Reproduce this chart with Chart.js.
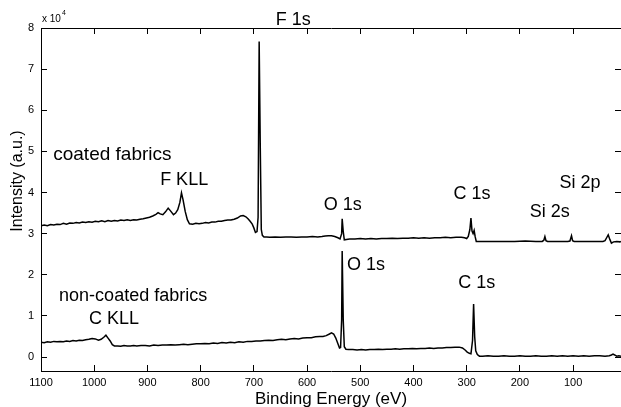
<!DOCTYPE html>
<html>
<head>
<meta charset="utf-8">
<title>XPS survey spectra</title>
<script src="https://cdn.jsdelivr.net/npm/chart.js@4.4.0/dist/chart.umd.min.js"></script>
<style>
  html, body { margin: 0; padding: 0; background: #fff; }
  #wrap { width: 621px; height: 407px; }
</style>
</head>
<body>
<div id="wrap"><canvas id="xpsChart" width="621" height="407"></canvas></div>
<script>
// Binding energy (eV) and intensity (counts)
const coatedEnergy = [
  1100, 1094, 1088, 1082, 1076, 1070, 1064, 1058, 1052, 1046, 1040, 1034, 1028, 1022, 1016, 1010,
  1004, 998, 992, 986, 980, 974, 968, 962, 956, 950, 944, 938, 932, 926, 920, 914, 908, 902, 896,
  890, 884, 880, 876, 871, 866, 861, 857, 851, 847, 843, 839, 836, 833, 829, 825, 821, 815, 809,
  803, 797, 791, 785, 779, 773, 767, 761, 755, 749, 743, 737, 731, 725, 720, 715, 711, 707, 703,
  700, 697, 694, 692, 690, 688, 686, 684, 681, 676, 670, 660, 650, 640, 630, 620, 610, 600, 590,
  580, 572, 566, 560, 554, 548, 542, 538, 535, 534, 532, 530, 526, 520, 510, 500, 490, 480, 470,
  460, 450, 440, 430, 420, 410, 400, 390, 380, 370, 360, 350, 340, 330, 320, 310, 304, 300, 297,
  294, 292, 290, 288, 286, 284, 282, 278, 270, 250, 230, 210, 190, 170, 158, 155, 153, 151, 148,
  130, 110, 106, 103, 101, 98, 80, 60, 44, 40, 37, 34, 31, 28, 24, 18, 12, 10
];
const coatedIntensity = [
  31900, 32100, 31900, 32200, 32100, 32300, 32200, 32500, 32300, 32600, 32500, 32700, 32600, 32800, 32700, 32900,
  32800, 33000, 32900, 33100, 32900, 33200, 33000, 33200, 33100, 33300, 33200, 33400, 33200, 33400, 33300, 33500, 33600, 33800, 34000,
  34300, 34700, 35100, 34800, 34600, 35300, 36200, 35600, 34600, 35000, 35800, 37600, 39900, 38200, 35400, 33400, 32400, 32300, 32500,
  32400, 32500, 32700, 32600, 32800, 32800, 33000, 33000, 33200, 33300, 33300, 33500, 33800, 34300, 34400, 34100, 33600, 33000, 32300,
  31400, 30300, 30500, 34000, 76700, 52000, 31000, 29600, 29200, 29200, 29100, 29200, 29100, 29200, 29200, 29100, 29200, 29200, 29300,
  29200, 29300, 29400, 29500, 29500, 29300, 29000, 28700, 30000, 33600, 30500, 28500, 28600, 28700, 28700, 28800, 28700, 28800, 28700,
  28800, 28800, 28900, 28800, 28900, 28900, 29000, 28900, 29000, 28900, 29000, 29000, 29100, 29000, 29100, 29100, 29000, 28800, 29300,
  31000, 33800, 30600, 30000, 30800, 29200, 28100, 28100, 28100, 28100, 28100, 28100, 28200, 28100, 28100, 28400, 29300, 28300, 28100,
  28100, 28100, 28200, 29500, 28300, 28100, 28100, 28100, 28100, 28300, 29000, 29700, 28600, 27700, 28000, 28100, 28000, 28100
];

const uncoatedEnergy = [
  1100, 1094, 1088, 1082, 1076, 1070, 1064, 1058, 1052, 1046, 1040, 1034, 1028, 1022, 1016, 1010,
  1004, 998, 992, 987, 982, 978, 974, 970, 966, 962, 956, 950, 944, 938, 932, 926, 920, 912, 904,
  896, 888, 880, 872, 864, 856, 848, 840, 832, 824, 816, 808, 800, 792, 784, 776, 768, 760, 752,
  744, 736, 728, 720, 712, 704, 696, 688, 680, 672, 664, 656, 648, 640, 632, 624, 616, 608, 600,
  592, 584, 576, 570, 564, 558, 554, 550, 546, 542, 539, 537, 535, 534, 532, 530, 527, 522, 514,
  506, 498, 490, 482, 474, 466, 458, 450, 442, 434, 426, 418, 410, 402, 394, 386, 378, 370, 362,
  354, 346, 338, 330, 322, 314, 308, 303, 299, 295, 292, 289, 287, 285, 283, 280, 276, 270, 260,
  250, 240, 230, 220, 210, 200, 190, 180, 170, 160, 150, 140, 130, 120, 110, 100, 90, 80, 70, 60,
  50, 40, 32, 28, 25, 22, 18, 14, 10
];
const uncoatedIntensity = [
  3600, 3500, 3700, 3600, 3800, 3700, 3800, 3700, 3900, 3800, 4000, 3900, 4100, 4000, 4200, 4300,
  4500, 4400, 4100, 4300, 4800, 5300, 4600, 3900, 3000, 2700, 2700, 2600, 2800, 2700, 2700, 2800, 2700, 2800, 2800,
  2700, 2900, 2800, 2900, 2900, 3000, 2900, 3000, 3100, 3000, 3100, 3200, 3200, 3300, 3200, 3400, 3300, 3500, 3400,
  3600, 3500, 3700, 3600, 3800, 3800, 3900, 3900, 4000, 4100, 4000, 4200, 4300, 4200, 4400, 4500, 4400, 4600, 4700,
  4700, 4900, 5000, 5000, 5200, 5600, 5900, 5600, 4600, 3200, 2200, 2300, 9000, 25800, 9000, 2500, 1900, 1800, 1800,
  1700, 1800, 1700, 1800, 1800, 1900, 1800, 1900, 1900, 2000, 1900, 2000, 2000, 2100, 2000, 2100, 2100, 2200, 2100,
  2200, 2200, 2300, 2300, 2400, 2400, 2200, 1700, 1200, 900, 800, 4000, 12900, 5000, 1500, 600, 200, 200, 300,
  200, 200, 300, 200, 200, 300, 200, 200, 300, 200, 200, 300, 200, 300, 200, 300, 200, 300, 200, 300,
  300, 200, 300, 500, 700, 500, 200, 300, 200
];

const xTickValues = [1100, 1000, 900, 800, 700, 600, 500, 400, 300, 200, 100];
const yTickValues = [0, 10000, 20000, 30000, 40000, 50000, 60000, 70000, 80000];

// peak labels: text, binding energy, intensity, alignment, font size
const peakLabels = [
  { text: 'F 1s', x: 626, y: 82000, align: 'center', size: 18 },
  { text: 'coated fabrics', x: 1077, y: 49100, align: 'left', size: 19 },
  { text: 'F KLL', x: 831, y: 43100, align: 'center', size: 18 },
  { text: 'O 1s', x: 533, y: 37000, align: 'center', size: 18 },
  { text: 'C 1s', x: 290, y: 39700, align: 'center', size: 18 },
  { text: 'Si 2s', x: 144, y: 35300, align: 'center', size: 18 },
  { text: 'Si 2p', x: 87, y: 42300, align: 'center', size: 18 },
  { text: 'non-coated fabrics', x: 1066, y: 14800, align: 'left', size: 18 },
  { text: 'C KLL', x: 963, y: 9200, align: 'center', size: 18 },
  { text: 'O 1s', x: 525, y: 22400, align: 'left', size: 18 },
  { text: 'C 1s', x: 281, y: 18000, align: 'center', size: 18 }
];

const FONT = '"Liberation Sans", Arial, Helvetica, sans-serif';

function toPoints(xs, ys) {
  return xs.map((x, i) => ({ x: x, y: ys[i] }));
}

// inward tick marks, no grid lines inside the plot
const inwardTicks = { display: true, drawOnChartArea: false, drawTicks: true, tickLength: -6, color: '#000', lineWidth: 1 };
const frameBorder = { display: true, color: '#000', width: 1 };

// peak labels, axis title and exponent
const labelPlugin = {
  id: 'peakLabels',
  afterDraw(chart) {
    const c = chart.ctx;
    const sx = chart.scales.x;
    const sy = chart.scales.y;
    c.save();
    c.fillStyle = '#000';
    c.textBaseline = 'middle';
    peakLabels.forEach(l => {
      c.font = l.size + 'px ' + FONT;
      c.textAlign = l.align;
      c.fillText(l.text, sx.getPixelForValue(l.x), sy.getPixelForValue(l.y));
    });

    c.save();
    c.translate(18, 181);
    c.rotate(-Math.PI / 2);
    c.textAlign = 'center';
    c.font = '16px ' + FONT;
    c.fillText('Intensity (a.u.)', 0, 0);
    c.restore();

    c.textAlign = 'left';
    c.textBaseline = 'alphabetic';
    c.font = '10px ' + FONT;
    c.fillText('x 10', 42, 22);
    c.font = '7px ' + FONT;
    c.fillText('4', 62, 15);
    c.restore();
  }
};

const ctx = document.getElementById('xpsChart').getContext('2d');

const xpsChart = new Chart(ctx, {
  type: 'line',
  data: {
    datasets: [
      {
        label: 'coated fabrics',
        data: toPoints(coatedEnergy, coatedIntensity),
        borderColor: '#000',
        borderWidth: 1.5,
        pointRadius: 0,
        tension: 0,
        fill: false
      },
      {
        label: 'non-coated fabrics',
        data: toPoints(uncoatedEnergy, uncoatedIntensity),
        borderColor: '#000',
        borderWidth: 1.5,
        pointRadius: 0,
        tension: 0,
        fill: false
      }
    ]
  },
  options: {
    responsive: false,
    animation: false,
    layout: { padding: { top: 28, left: 0, right: 0, bottom: 0 } },
    plugins: {
      legend: { display: false },
      tooltip: { enabled: false }
    },
    scales: {
      x: {
        type: 'linear',
        position: 'bottom',
        reverse: true,
        min: 10,
        max: 1100,
        afterBuildTicks: s => { s.ticks = xTickValues.map(v => ({ value: v })); },
        afterFit: s => { s.height = 36; },
        grid: inwardTicks,
        border: frameBorder,
        ticks: {
          color: '#000',
          font: { family: FONT, size: 11 },
          padding: 11,
          maxRotation: 0,
          autoSkip: false,
          callback: v => String(v)
        },
        title: {
          display: true,
          text: 'Binding Energy (eV)',
          color: '#000',
          font: { family: FONT, size: 17 },
          padding: { top: 0, bottom: -3 }
        }
      },
      xTop: {
        type: 'linear',
        position: 'top',
        reverse: true,
        min: 10,
        max: 1100,
        afterBuildTicks: s => { s.ticks = xTickValues.map(v => ({ value: v })); },
        afterFit: s => { s.height = 0; },
        grid: inwardTicks,
        border: frameBorder,
        ticks: { display: false }
      },
      y: {
        position: 'left',
        min: -3400,
        max: 80000,
        afterBuildTicks: s => { s.ticks = yTickValues.map(v => ({ value: v })); },
        afterFit: s => { s.width = 41; },
        grid: inwardTicks,
        border: frameBorder,
        ticks: {
          color: '#000',
          font: { family: FONT, size: 11 },
          padding: 13,
          callback: v => String(v / 10000)
        }
      },
      yRight: {
        position: 'right',
        min: -3400,
        max: 80000,
        afterBuildTicks: s => { s.ticks = yTickValues.map(v => ({ value: v })); },
        afterFit: s => { s.width = 0; },
        grid: inwardTicks,
        border: frameBorder,
        ticks: { display: false }
      }
    }
  },
  plugins: [labelPlugin]
});
</script>
</body>
</html>
